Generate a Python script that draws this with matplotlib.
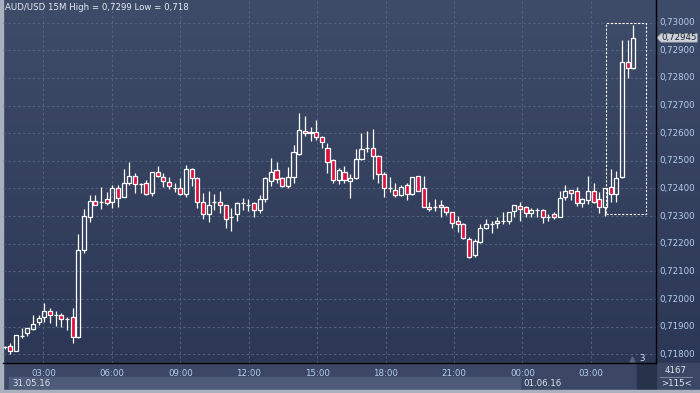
import numpy as np
import matplotlib
matplotlib.use('Agg')
import matplotlib.pyplot as plt
from matplotlib.patches import Rectangle, Polygon

# AUD/USD 15M candles
opens = [0.71825, 0.71829, 0.71813, 0.71866, 0.71876, 0.71891, 0.71916, 0.71934, 0.71956, 0.71943,
         0.71941, 0.71928, 0.71934, 0.71864, 0.72179, 0.72298, 0.72354, 0.72350, 0.72361, 0.72350,
         0.72401, 0.72371, 0.72419, 0.72445, 0.72418, 0.72419, 0.72385, 0.72459, 0.72443, 0.72425,
         0.72402, 0.72401, 0.72379, 0.72470, 0.72437, 0.72350, 0.72308, 0.72350, 0.72350, 0.72339,
         0.72298, 0.72308, 0.72349, 0.72340, 0.72347, 0.72322, 0.72361, 0.72428, 0.72466, 0.72437,
         0.72409, 0.72443, 0.72524, 0.72609, 0.72600, 0.72606, 0.72586, 0.72548, 0.72502, 0.72430,
         0.72459, 0.72426, 0.72439, 0.72506, 0.72548, 0.72548, 0.72519, 0.72452, 0.72403, 0.72394,
         0.72377, 0.72413, 0.72379, 0.72445, 0.72401, 0.72334, 0.72334, 0.72339, 0.72334, 0.72314,
         0.72283, 0.72272, 0.72217, 0.72159, 0.72208, 0.72256, 0.72271, 0.72274, 0.72283, 0.72284,
         0.72320, 0.72338, 0.72332, 0.72310, 0.72322, 0.72322, 0.72298, 0.72307, 0.72298, 0.72371,
         0.72395, 0.72390, 0.72349, 0.72359, 0.72390, 0.72361, 0.72332, 0.72405, 0.72380, 0.72441,
         0.72859, 0.72835]
highs = [0.71830, 0.71841, 0.71870, 0.71894, 0.71896, 0.71942, 0.71942, 0.71986, 0.71967, 0.71957,
         0.71948, 0.71934, 0.71967, 0.72235, 0.72326, 0.72377, 0.72377, 0.72406, 0.72386, 0.72413,
         0.72413, 0.72471, 0.72496, 0.72455, 0.72421, 0.72431, 0.72459, 0.72482, 0.72455, 0.72441,
         0.72419, 0.72439, 0.72485, 0.72473, 0.72443, 0.72383, 0.72392, 0.72380, 0.72392, 0.72339,
         0.72329, 0.72352, 0.72365, 0.72362, 0.72352, 0.72377, 0.72443, 0.72510, 0.72497, 0.72443,
         0.72479, 0.72558, 0.72672, 0.72663, 0.72622, 0.72648, 0.72590, 0.72564, 0.72506, 0.72473,
         0.72482, 0.72453, 0.72542, 0.72602, 0.72608, 0.72615, 0.72521, 0.72461, 0.72441, 0.72419,
         0.72413, 0.72419, 0.72441, 0.72447, 0.72445, 0.72352, 0.72361, 0.72359, 0.72337, 0.72316,
         0.72301, 0.72274, 0.72226, 0.72217, 0.72271, 0.72289, 0.72283, 0.72298, 0.72316, 0.72316,
         0.72339, 0.72352, 0.72337, 0.72329, 0.72329, 0.72326, 0.72308, 0.72316, 0.72392, 0.72413,
         0.72395, 0.72405, 0.72365, 0.72445, 0.72419, 0.72389, 0.72403, 0.72470, 0.72463, 0.72938,
         0.72938, 0.72990]
lows = [0.71820, 0.71800, 0.71811, 0.71860, 0.71867, 0.71888, 0.71906, 0.71918, 0.71914, 0.71902,
        0.71900, 0.71888, 0.71840, 0.71860, 0.72168, 0.72280, 0.72339, 0.72325, 0.72339, 0.72331,
        0.72334, 0.72371, 0.72413, 0.72385, 0.72385, 0.72377, 0.72374, 0.72443, 0.72405, 0.72398,
        0.72389, 0.72377, 0.72371, 0.72410, 0.72329, 0.72289, 0.72280, 0.72322, 0.72313, 0.72258,
        0.72247, 0.72284, 0.72322, 0.72320, 0.72296, 0.72313, 0.72352, 0.72409, 0.72419, 0.72405,
        0.72401, 0.72419, 0.72521, 0.72590, 0.72573, 0.72576, 0.72546, 0.72455, 0.72419, 0.72416,
        0.72419, 0.72365, 0.72434, 0.72503, 0.72533, 0.72435, 0.72419, 0.72371, 0.72389, 0.72371,
        0.72372, 0.72359, 0.72376, 0.72390, 0.72332, 0.72319, 0.72320, 0.72298, 0.72304, 0.72256,
        0.72244, 0.72218, 0.72148, 0.72153, 0.72204, 0.72253, 0.72240, 0.72256, 0.72271, 0.72272,
        0.72298, 0.72284, 0.72298, 0.72298, 0.72298, 0.72274, 0.72284, 0.72289, 0.72296, 0.72359,
        0.72359, 0.72337, 0.72334, 0.72344, 0.72347, 0.72310, 0.72301, 0.72352, 0.72352, 0.72437,
        0.72799, 0.72832]
closes = [0.71825, 0.71811, 0.71869, 0.71866, 0.71894, 0.71909, 0.71930, 0.71956, 0.71941, 0.71943,
          0.71927, 0.71928, 0.71862, 0.72178, 0.72300, 0.72354, 0.72339, 0.72350, 0.72347, 0.72401,
          0.72365, 0.72419, 0.72445, 0.72415, 0.72418, 0.72379, 0.72459, 0.72445, 0.72426, 0.72410,
          0.72402, 0.72379, 0.72470, 0.72437, 0.72350, 0.72308, 0.72340, 0.72350, 0.72339, 0.72289,
          0.72298, 0.72349, 0.72349, 0.72340, 0.72321, 0.72361, 0.72437, 0.72460, 0.72436, 0.72409,
          0.72441, 0.72531, 0.72612, 0.72600, 0.72606, 0.72586, 0.72570, 0.72495, 0.72431, 0.72466,
          0.72431, 0.72437, 0.72506, 0.72542, 0.72548, 0.72519, 0.72452, 0.72401, 0.72403, 0.72377,
          0.72405, 0.72379, 0.72441, 0.72392, 0.72334, 0.72325, 0.72334, 0.72332, 0.72314, 0.72274,
          0.72272, 0.72220, 0.72153, 0.72210, 0.72256, 0.72271, 0.72271, 0.72283, 0.72283, 0.72314,
          0.72339, 0.72325, 0.72310, 0.72322, 0.72322, 0.72298, 0.72298, 0.72296, 0.72365, 0.72390,
          0.72385, 0.72347, 0.72361, 0.72390, 0.72352, 0.72332, 0.72401, 0.72380, 0.72437, 0.72859,
          0.72835, 0.72945]

time_labels = ['03:00', '06:00', '09:00', '12:00', '15:00', '18:00', '21:00', '00:00', '03:00']
price_ticks = [0.718, 0.719, 0.720, 0.721, 0.722, 0.723, 0.724, 0.725, 0.726, 0.727, 0.728, 0.729, 0.730]
last_price = 0.72945
title = 'AUD/USD 15M High = 0,7299 Low = 0,718'

W, H = 700, 393
FS = 6.2
fig = plt.figure(figsize=(W / 100, H / 100), dpi=100)


def fx(px):
    return px / W


def fy(py):
    return 1 - py / H


# background gradient
bg = fig.add_axes([0, 0, 1, 1], zorder=-10)
bg.axis('off')
top_c = np.array([62, 75, 105]) / 255
bot_c = np.array([42, 54, 83]) / 255
t = np.linspace(0, 1, 256)[:, None]
grad = top_c[None, :] * (1 - t) + bot_c[None, :] * t
bg.imshow(grad[:, None, :], aspect='auto', extent=[0, 1, 0, 1])
bg.set_xlim(0, 1)
bg.set_ylim(0, 1)

# bottom time strip and date bar
bg.add_patch(Rectangle((0, 0), 1, fy(363.3), color='#3b4764', zorder=1))
bg.add_patch(Rectangle((fx(9), fy(390)), fx(511), fy(377) - fy(390), color='#4e5b79', zorder=2))
bg.add_patch(Rectangle((fx(636.7), fy(390)), fx(19), fy(363.3) - fy(390), color='#27324b', zorder=2))
bg.plot([fx(660), fx(692)], [fy(376.7), fy(376.7)], color='#7d879c', lw=0.7, zorder=3)
bg.add_patch(Rectangle((0, 0), fx(3), 1, color='#a9b0be', zorder=4))
bg.add_patch(Rectangle((0, 0), 1, fy(390), color='#a9b0be', zorder=4))

ax = fig.add_axes([fx(3), fy(363.3), fx(656.3 - 3), fy(0) - fy(363.3)])
ax.set_facecolor('none')

x = np.arange(len(opens))
o = np.array(opens)
c = np.array(closes)
hi = np.array(highs)
lo = np.array(lows)
body_top = np.maximum(o, c)
body_bot = np.minimum(o, c)
colors = np.where(c < o, '#e0103a', 'none')

ax.vlines(x, body_top, hi, color='white', lw=0.9, zorder=3)
ax.vlines(x, lo, body_bot, color='white', lw=0.9, zorder=3)
ax.bar(x, body_top - body_bot, bottom=body_bot, width=0.72, color=colors,
       edgecolor='white', linewidth=0.9, zorder=4)

# dashed selection box around the last candles
ax.add_patch(Rectangle((106.1, 0.72306), 7.1, 0.00692, fill=False, edgecolor='white',
                       linestyle=(0, (2, 1.5)), lw=0.8, zorder=5))

ax.set_xlim(-0.3, 115.06)
ax.set_ylim(0.717674, 0.730821)

tick_x = [6.85 + 12.08 * k for k in range(len(time_labels))]
ax.set_xticks(tick_x)
ax.set_xticklabels(time_labels)
ax.set_yticks(price_ticks)
ax.set_yticklabels([f'{v:.5f}'.replace('.', ',') for v in price_ticks])
ax.yaxis.tick_right()
ax.tick_params(axis='both', length=0, labelsize=FS, colors='#b6cff0')
ax.tick_params(axis='x', pad=3.8)
ax.tick_params(axis='y', pad=2.3)
for lab in ax.get_yticklabels():
    lab.set_verticalalignment('center')

ax.grid(True, color='#56637f', linestyle=(0, (2.5, 2.5)), linewidth=0.7)
ax.set_axisbelow(True)
for s in ['left', 'top']:
    ax.spines[s].set_visible(False)
ax.spines['right'].set_color('black')
ax.spines['bottom'].set_color('black')
ax.spines['right'].set_linewidth(1.0)
ax.spines['bottom'].set_linewidth(1.0)

# last price marker, drawn in pixel space at the close's height
py = H - ax.transData.transform((0, last_price))[1]
pts = [(656.7, py), (661, py - 4.3), (697.3, py - 4.3), (697.3, py + 4.3), (661, py + 4.3)]
bg.add_patch(Polygon([(fx(a), fy(b)) for a, b in pts], closed=True, fc='#cdd1da',
                     ec='#8e96a8', lw=0.5, zorder=6))
fig.text(fx(679.5), fy(py), f'{last_price:.5f}'.replace('.', ','), fontsize=FS,
         color='#1c2233', va='center', ha='center', zorder=10)

fig.text(fx(4.7), fy(8), title, fontsize=FS, color='#e8edf5', va='center', ha='left')
fig.text(fx(12), fy(383), '31.05.16', fontsize=FS, color='#dfe5f0', va='center', ha='left')
fig.text(fx(523), fy(383), '01.06.16', fontsize=FS, color='#dfe5f0', va='center', ha='left')
fig.text(fx(641.7), fy(358.3), '3', fontsize=FS, color='#dfe5f0', va='center', ha='center')
fig.text(fx(676), fy(370.7), '4167', fontsize=FS, color='#dfe5f0', va='center', ha='center')
fig.text(fx(676), fy(383.3), '>115<', fontsize=FS, color='#dfe5f0', va='center', ha='center')
bg.plot([fx(632)], [fy(358.5)], marker='^', ms=3.5, color='#5a6580', zorder=5)

fig.savefig('out.png', dpi=100)
